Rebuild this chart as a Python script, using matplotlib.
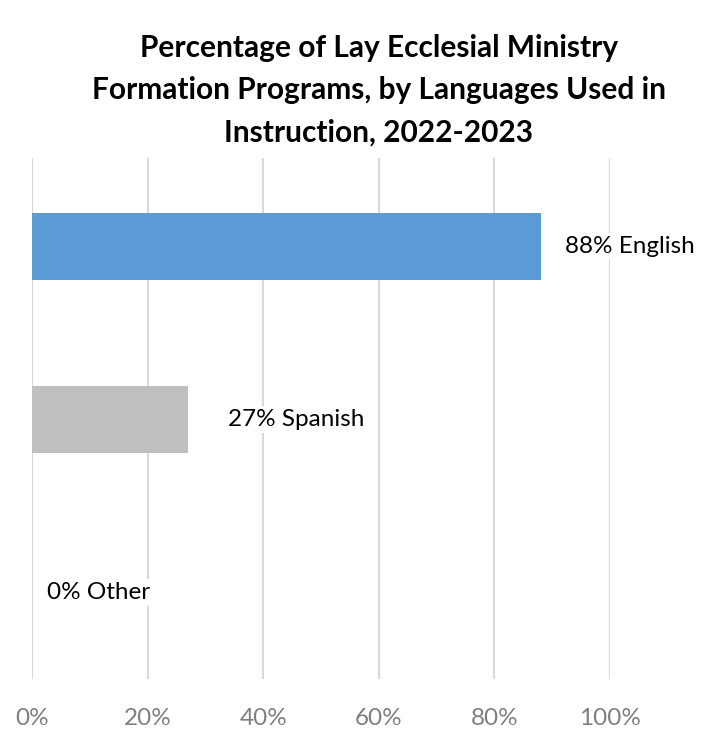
import matplotlib.pyplot as plt

# data
languages = ['English', 'Spanish', 'Other']
percent = [88, 27, 0]
bar_colors = ['#5B9BD5', '#BFBFBF', '#BFBFBF']
label_offsets = [24, 40, 15]  # px gap between bar end and label
ticks = [0, 20, 40, 60, 80, 100]

plt.rcParams['font.family'] = ['Lato', 'DejaVu Sans']

fig = plt.figure(figsize=(7.11, 7.32), dpi=100)
ax = fig.add_axes([32 / 711, 53 / 732, 578 / 711, 521 / 732])

y = range(len(languages))
ax.barh(y, percent, height=0.39, color=bar_colors, zorder=2)

for i, (lang, p) in enumerate(zip(languages, percent)):
    ax.annotate(f'{p}% {lang}', xy=(p, i), xytext=(label_offsets[i] * 0.72, 0),
                textcoords='offset points', va='center', ha='left',
                fontsize=17.5, color='black', annotation_clip=False,
                bbox=dict(facecolor='white', edgecolor='none', pad=2), zorder=3)

ax.set_xlim(0, 100)
ax.set_ylim(2.5, -0.51)
ax.set_xticks(ticks)
ax.set_xticklabels([f'{t}%' for t in ticks], fontsize=17.5, color='#7F7F7F')
ax.set_yticks([])
ax.tick_params(axis='x', length=0, pad=21)
ax.grid(axis='x', color='#D9D9D9', linewidth=1.5, zorder=0)
ax.set_axisbelow(True)
for s in ax.spines.values():
    s.set_visible(False)

fig.text(0.533, 0.877, 'Percentage of Lay Ecclesial Ministry\nFormation Programs, by Languages Used in\nInstruction, 2022-2023',
         ha='center', va='center', fontsize=21.5, fontweight='bold', linespacing=1.62)

fig.savefig('out.png', dpi=100, facecolor='white')
